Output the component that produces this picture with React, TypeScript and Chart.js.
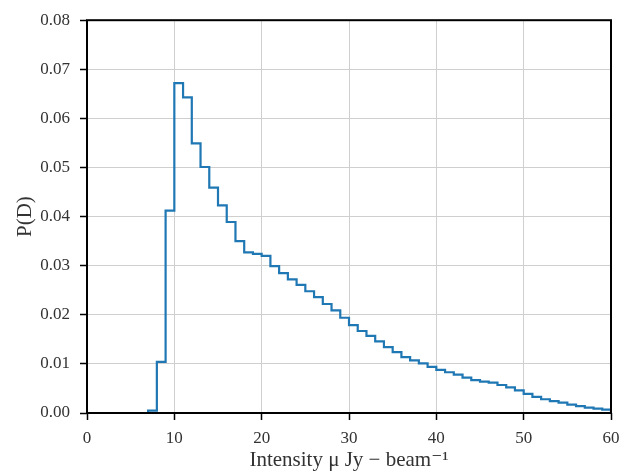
import { useEffect, useRef } from "react";
import { Chart, registerables } from "chart.js";
Chart.register(...registerables);

// Histogram bin edges (μJy/beam) and normalised probability per bin
const binEdges = [7, 8, 9, 10, 11, 12, 13, 14, 15, 16, 17, 18, 19, 20, 21, 22, 23, 24, 25, 26, 27, 28, 29, 30, 31, 32, 33, 34, 35, 36, 37, 38, 39, 40, 41, 42, 43, 44, 45, 46, 47, 48, 49, 50, 51, 52, 53, 54, 55, 56, 57, 58, 59, 60];
const pValues = [
  0.0005, 0.0104, 0.0412, 0.0672, 0.0643, 0.0549, 0.0501, 0.0459, 0.0423, 0.0389,
  0.0350, 0.0327, 0.0324, 0.0320, 0.0299, 0.0285, 0.0272, 0.0261, 0.0248, 0.0236,
  0.0222, 0.0209, 0.0194, 0.0179, 0.0167, 0.0157, 0.0146, 0.0134, 0.0124, 0.0114,
  0.0107, 0.0101, 0.0094, 0.0088, 0.0083, 0.0078, 0.0072, 0.0067, 0.0064, 0.0062,
  0.0057, 0.0052, 0.0046, 0.0039, 0.0033, 0.0028, 0.0024, 0.0021, 0.0017, 0.0014,
  0.0011, 0.0009, 0.0007,
];
const xTicks = [0, 10, 20, 30, 40, 50, 60];
const yTicks = [0, 0.01, 0.02, 0.03, 0.04, 0.05, 0.06, 0.07, 0.08];

const FONT = "'Liberation Serif', 'DejaVu Serif', serif";
const TEXT = "#333";

export default function App() {
  const ref = useRef<HTMLCanvasElement>(null);
  useEffect(() => {
    if (!ref.current) return;
    const pts: { x: number; y: number }[] = [{ x: binEdges[0], y: 0 }];
    pValues.forEach((v, i) => pts.push({ x: binEdges[i], y: v }));
    pts.push({ x: binEdges[binEdges.length - 1], y: pValues[pValues.length - 1] });
    pts.push({ x: binEdges[binEdges.length - 1], y: 0 });

    const frame = {
      id: "frame",
      afterDraw(chart: any) {
        const { ctx, chartArea: a } = chart;
        ctx.save();
        ctx.strokeStyle = "#000";
        ctx.lineWidth = 2;
        ctx.strokeRect(a.left, a.top, a.right - a.left, a.bottom - a.top);
        ctx.restore();
      },
    };

    const chart = new Chart(ref.current, {
      type: "line",
      data: {
        datasets: [
          {
            data: pts,
            borderColor: "#1f77b4",
            borderWidth: 2.2,
            pointRadius: 0,
            fill: false,
            stepped: "before",
          },
        ],
      },
      options: {
        animation: false,
        responsive: false,
        layout: { padding: { top: 16, right: 30, left: 0, bottom: 0 } },
        plugins: { legend: { display: false }, tooltip: { enabled: false } },
        scales: {
          x: {
            type: "linear",
            min: 0,
            max: 60,
            afterBuildTicks: (s: any) => {
              s.ticks = xTicks.map((v) => ({ value: v }));
            },
            afterFit: (s: any) => {
              s.height = 60;
            },
            grid: { color: "#cfcfcf", lineWidth: 1, tickColor: "#000", tickLength: 7, tickWidth: 1.5 },
            border: { display: false },
            ticks: {
              font: { family: FONT, size: 17 },
              color: TEXT,
              padding: 8,
              maxRotation: 0,
              callback: (v: any) => String(v),
            },
            title: {
              display: true,
              text: "Intensity μ Jy − beam⁻¹",
              font: { family: FONT, size: 21 },
              color: TEXT,
              padding: { top: 0, bottom: 0 },
            },
          },
          y: {
            type: "linear",
            min: 0,
            max: 0.08,
            afterBuildTicks: (s: any) => {
              s.ticks = yTicks.map((v) => ({ value: v }));
            },
            afterFit: (s: any) => {
              s.width = 87;
            },
            grid: { color: "#cfcfcf", lineWidth: 1, tickColor: "#000", tickLength: 7, tickWidth: 1.5 },
            border: { display: false },
            ticks: {
              font: { family: FONT, size: 17 },
              color: TEXT,
              padding: 10,
              callback: (v: any) => Number(v).toFixed(2),
            },
            title: {
              display: true,
              text: "P(D)",
              font: { family: FONT, size: 21 },
              color: TEXT,
              padding: { top: 13, bottom: 0 },
            },
          },
        },
      },
      plugins: [frame],
    });
    return () => chart.destroy();
  }, []);
  return (
    <canvas
      ref={ref}
      width={641}
      height={473}
      style={{ position: "absolute", left: 0, top: 0, display: "block" }}
    />
  );
}
